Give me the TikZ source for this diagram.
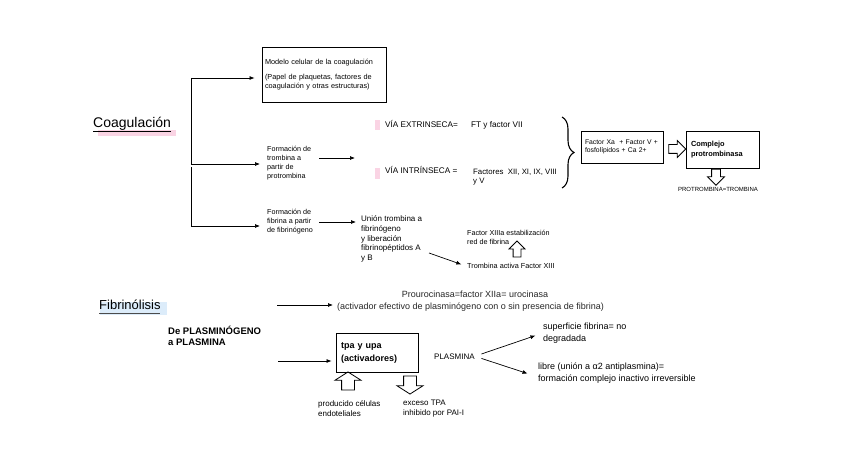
\documentclass[tikz,border=0pt]{standalone}
\usepackage{fontspec}
\setmainfont{Liberation Sans}
\usepackage{xcolor}
\usetikzlibrary{arrows.meta,positioning,shapes.arrows,decorations.pathreplacing}
\definecolor{hlpink}{RGB}{250,212,228}
\definecolor{hlblue}{RGB}{220,236,250}

\begin{document}
\begin{tikzpicture}[x=1pt, y=-1pt,
    txt/.style={inner sep=0pt, align=left, font=\fontsize{7.2}{9}\selectfont},
    big/.style={inner sep=0pt, font=\fontsize{14}{16}\selectfont},
    box/.style={draw, line width=0.9pt, inner ysep=0pt, align=left},
    arr/.style={-{Latex[length=5pt,width=4pt]}, line width=0.7pt},
    hollow/.style={draw, line width=0.8pt, single arrow, inner sep=4pt,
        single arrow head extend=4pt, minimum height=17pt}
]
\useasboundingbox (0,0) rectangle (848,470);

% coagulacion
\fill[hlpink] (98,130) rectangle (176,136);
\node[big, anchor=base west] (coag) at (93,128) {Coagulación};
\draw[line width=0.7pt] (93,131) -- (171,131);

\node[box, anchor=center, minimum width=124pt, minimum height=55pt, inner xsep=3pt,
    text width=118pt, font=\fontsize{7.3}{8.5}\selectfont] (modelo) at (324,74.5)
    {Modelo celular de la coagulación\\[7pt](Papel de plaquetas, factores de\\coagulación y otras estructuras)};
\node[txt, anchor=west] (tromb) at (267,163) {Formación de\\trombina a\\partir de\\protrombina};
\node[txt, anchor=west] (fibr) at (267,222) {Formación de\\fibrina a partir\\de fibrinógeno};

\coordinate (sptop) at (191,78);
\coordinate (spmid) at (191,164);
\coordinate (spbot) at (191,226);
\draw[line width=0.8pt] (sptop) -- (spmid);
\draw[line width=0.8pt] ([yshift=-3pt]spmid) -- (spbot);
\draw[arr, shorten >=7pt] (sptop) -- (sptop -| modelo.west);
\draw[arr, shorten >=7pt] (spmid) -- (spmid -| tromb.west);
\draw[arr, shorten >=7pt] (spbot) -- (spbot -| fibr.west);

\fill[hlpink] (375,120) rectangle (380,130);
\fill[hlpink] (375,168) rectangle (380,179);
\node[txt, anchor=base west, font=\fontsize{8.2}{10}\selectfont] (extr) at (385,128) {VÍA EXTRINSECA=};
\node[txt, anchor=base west, font=\fontsize{8.2}{10}\selectfont] (ftvii) at (471,128) {FT y factor VII};
\node[txt, anchor=base west, font=\fontsize{8.2}{10}\selectfont] (intr) at (385,174) {VÍA INTRÍNSECA =};
\node[txt, anchor=west, font=\fontsize{7.8}{9.5}\selectfont] (factores) at (473,177) {Factores~ XII, XI, IX, VIII\\y V};

\coordinate (viain) at (355,158);
\draw[arr, shorten <=8pt] (viain -| tromb.east) -- (viain);

\draw[decorate, decoration={brace, amplitude=12pt}, line width=1.1pt] (562,117) -- (562,188);

\node[box, minimum width=82pt, minimum height=32pt, inner xsep=4pt, text width=74pt,
    font=\fontsize{6.8}{8}\selectfont] (fxa) at (622,147) {Factor Xa~ + Factor V +\\fosfolípidos + Ca 2+};
\node[box, minimum width=73pt, minimum height=37pt, inner xsep=5pt, text width=63pt,
    font=\bfseries\fontsize{7.4}{10}\selectfont] (complejo) at (722.5,149.5) {Complejo\\protrombinasa};
\node[hollow, shape border rotate=0] (arrR) at (675,149) {};
\node[hollow, shape border rotate=270, minimum height=16pt] (arrD) at (716,175) {};
\node[txt, anchor=base, font=\fontsize{6}{7}\selectfont] (protr) at (718,192) {PROTROMBINA=TROMBINA};

\node[txt, anchor=west, font=\fontsize{8}{9.8}\selectfont] (union) at (361,239)
    {Unión trombina a\\fibrinógeno\\y liberación\\fibrinopéptidos A\\y B};
\draw[arr, shorten <=6pt, shorten >=5pt] (fibr.east) -- (fibr.east -| union.west);
\node[txt, anchor=west] (xiiia) at (467,237) {Factor XIIIa estabilización\\red de fibrina};
\node[txt, anchor=base west, font=\fontsize{7.3}{9}\selectfont] (trombact) at (467,269) {Trombina activa Factor XIII};
\coordinate (u1) at (429,253);
\draw[arr, shorten >=6pt] (u1) -- (trombact.west);
\node[hollow, shape border rotate=90, inner sep=3.5pt, minimum height=16pt] (arrU) at (517,251) {};

% fibrinolisis
\fill[hlblue] (100,302) rectangle (167,315);
\node[big, anchor=base west, font=\fontsize{13}{15}\selectfont] (fibrino) at (99,309) {Fibrinólisis};
\draw[black!70, line width=1pt] (99,313.5) -- (160,313.5);

\node[txt, anchor=base, font=\fontsize{9}{11}\selectfont, text=black!85] (prouro) at (475,298) {Prourocinasa=factor XIIa= urocinasa};
\node[txt, anchor=base west, font=\fontsize{9}{11}\selectfont, text=black!85] (activ) at (337,309)
    {(activador efectivo de plasminógeno con o sin presencia de fibrina)};
\coordinate (f1) at (277,305);
\draw[arr, shorten >=4pt] (f1) -- (f1 -| activ.west);

\node[txt, anchor=west, font=\bfseries\fontsize{9.5}{11.5}\selectfont] (deplasm) at (168,336) {De PLASMINÓGENO\\a PLASMINA};
\node[box, minimum width=82pt, minimum height=39pt, inner xsep=5pt, text width=72pt,
    font=\bfseries\fontsize{9}{13}\selectfont] (tpa) at (377,352.5) {tpa y upa\\(activadores)};
\coordinate (f2) at (278,361);
\draw[arr, shorten >=4pt] (f2) -- (f2 -| tpa.west);

\node[txt, anchor=base west, font=\fontsize{8}{10}\selectfont] (plasmina) at (434,359) {PLASMINA};
\node[txt, anchor=west, font=\fontsize{9}{12}\selectfont] (superf) at (543,333) {superficie fibrina= no\\degradada};
\node[txt, anchor=west, font=\fontsize{9}{12}\selectfont] (libre) at (538,373)
    {libre (unión a α2 antiplasmina)=\\formación complejo inactivo irreversible};
\draw[arr, shorten <=7pt, shorten >=8pt] (plasmina.east) -- (superf.west);
\draw[arr, shorten <=7pt, shorten >=11pt] (plasmina.east) -- ([yshift=-4pt]libre.west);

\node[hollow, shape border rotate=90, inner sep=6pt, single arrow head extend=6.5pt,
    single arrow tip angle=115, minimum height=18pt] (arrU2) at (348,383) {};
\node[hollow, shape border rotate=270, inner sep=6pt, single arrow head extend=6.5pt,
    single arrow tip angle=115, minimum height=18pt] (arrD2) at (410,383) {};
\node[txt, anchor=west, font=\fontsize{8}{10}\selectfont] (producido) at (318,409) {producido células\\endoteliales};
\node[txt, anchor=west, font=\fontsize{8}{10}\selectfont] (exceso) at (403,409) {exceso TPA\\inhibido por PAI-I};
\end{tikzpicture}
\end{document}
